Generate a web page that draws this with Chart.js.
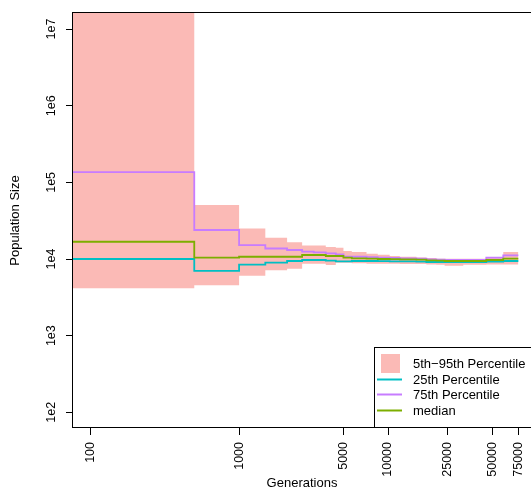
<!DOCTYPE html>
<html>
<head>
<meta charset="utf-8">
<script src="https://cdn.jsdelivr.net/npm/chart.js@4.4.1/dist/chart.umd.min.js"></script>
<style>
  html, body { margin: 0; padding: 0; background: #ffffff; overflow: hidden; }
  #wrap { width: 531px; height: 489px; position: relative; }
</style>
</head>
<body>
<div id="wrap"><canvas id="chart" width="531" height="489"></canvas></div>
<script>
// Step boundaries (generation at which each interval starts; last entry closes the final interval)
const generations = [1, 500, 1000, 1500, 2100, 2650, 3170, 3820, 4460, 5020, 5710, 7170,
                     8530, 10260, 12000, 15500, 18100, 21100, 24000, 32000, 45700, 59400, 75000];

// Population size per interval
const pct5   = [4140, 4560, 6060, 7110, 7480, 8690, 8690, 8350, 8950, 8950, 8820, 8690,
                8690, 8690, 8610, 8610, 8500, 8430, 8180, 8430, 8500, 8500];
const pct25  = [10000, 6980, 8430, 8950, 9420, 9700, 9700, 9500, 9310, 9310, 9420, 9420,
                9360, 9310, 9310, 9220, 9140, 9140, 9090, 9090, 9220, 9420];
const median = [16800, 10400, 10700, 10700, 10700, 11270, 11270, 10940, 10940, 10400, 10180, 10090,
                10000, 9940, 9880, 9790, 9590, 9500, 9420, 9420, 9700, 10090];
const pct75  = [136000, 23900, 15200, 13700, 13100, 12450, 12200, 11830, 11480, 10710, 10700, 10550,
                10400, 10300, 10180, 10090, 9880, 9790, 9700, 9700, 10400, 11140];
const pct95  = [30000000, 50500, 25000, 18900, 16600, 15030, 15030, 14330, 14030, 12710, 12330, 11720,
                11380, 10940, 10700, 10490, 10300, 10090, 10090, 10090, 10600, 12330];

const xTickValues = [100, 1000, 5000, 10000, 25000, 50000, 75000];
const xTickLabels = ['100', '1000', '5000', '10000', '25000', '50000', '75000'];
const yTickValues = [1e2, 1e3, 1e4, 1e5, 1e6, 1e7];
const yTickLabels = ['1e2', '1e3', '1e4', '1e5', '1e6', '1e7'];

const COLORS = {
  band: 'rgba(248,118,109,0.5)',
  p25: '#00BFC4',
  p75: '#C77CFF',
  median: '#7CAE00'
};

// Build step series: each interval value is repeated at the closing boundary
function steps(values) {
  const pts = values.map((v, i) => ({ x: generations[i], y: v }));
  pts.push({ x: generations[generations.length - 1], y: values[values.length - 1] });
  return pts;
}

Chart.defaults.font.family = '"Liberation Sans", Arial, Helvetica, sans-serif';
Chart.defaults.color = '#000000';

const lineBase = { stepped: 'before', pointRadius: 0, pointHoverRadius: 0, fill: false, borderWidth: 1.8 };

// Plot frame around the chart area
const framePlugin = {
  id: 'frame',
  afterDatasetsDraw(chart) {
    const { ctx, chartArea: a } = chart;
    ctx.save();
    ctx.strokeStyle = '#000000';
    ctx.lineWidth = 1;
    ctx.strokeRect(a.left - 0.5, a.top - 0.5, a.right - a.left + 6, a.bottom - a.top);
    ctx.restore();
  }
};

// Boxed legend anchored at the bottom-right corner of the plot
const legendPlugin = {
  id: 'boxLegend',
  afterDraw(chart) {
    const { ctx, chartArea: a } = chart;
    const ds = chart.data.datasets;
    const band = ds.find(d => d.id === 'p95');
    const lines = ['p25', 'p75', 'median'].map(id => ds.find(d => d.id === id));
    const x0 = a.right - 157, y0 = a.bottom - 81;
    ctx.save();
    ctx.fillStyle = '#ffffff';
    ctx.fillRect(x0, y0, a.right - x0, a.bottom - y0);
    ctx.strokeStyle = '#000000';
    ctx.lineWidth = 1;
    ctx.strokeRect(x0 + 0.5, y0 + 0.5, a.right - x0 + 6, a.bottom - y0 - 1);
    ctx.font = '13px "Liberation Sans", Arial, sans-serif';
    ctx.textBaseline = 'middle';
    ctx.textAlign = 'left';
    // band swatch
    ctx.fillStyle = band.backgroundColor;
    ctx.fillRect(x0 + 7, y0 + 7, 19, 19);
    ctx.fillStyle = '#000000';
    ctx.fillText(band.label, x0 + 39, y0 + 17);
    const rows = [33, 48, 64];
    lines.forEach((d, i) => {
      ctx.strokeStyle = d.borderColor;
      ctx.lineWidth = 2;
      ctx.beginPath();
      ctx.moveTo(x0 + 3, y0 + rows[i] - 0.5);
      ctx.lineTo(x0 + 28, y0 + rows[i] - 0.5);
      ctx.stroke();
      ctx.fillStyle = '#000000';
      ctx.fillText(d.label, x0 + 39, y0 + rows[i]);
    });
    ctx.restore();
  }
};

new Chart(document.getElementById('chart'), {
  type: 'line',
  data: {
    datasets: [
      Object.assign({}, lineBase, { id: 'median', label: 'median', data: steps(median), borderColor: COLORS.median }),
      Object.assign({}, lineBase, { id: 'p75', label: '75th Percentile', data: steps(pct75), borderColor: COLORS.p75 }),
      Object.assign({}, lineBase, { id: 'p25', label: '25th Percentile', data: steps(pct25), borderColor: COLORS.p25 }),
      Object.assign({}, lineBase, { id: 'p95', label: '5th\u221295th Percentile', data: steps(pct95),
        borderWidth: 0, borderColor: 'rgba(0,0,0,0)', backgroundColor: COLORS.band, fill: '+1', clip: 0 }),
      Object.assign({}, lineBase, { id: 'p5', label: '5th Percentile', data: steps(pct5),
        borderWidth: 0, borderColor: 'rgba(0,0,0,0)', clip: 0 })
    ]
  },
  options: {
    responsive: false,
    animation: false,
    devicePixelRatio: 1,
    layout: { padding: { left: 0, top: 13, right: 0, bottom: 0 } },
    plugins: {
      legend: { display: false },
      tooltip: { enabled: false }
    },
    scales: {
      x: {
        type: 'logarithmic',
        position: 'bottom',
        min: 76.7,
        max: 91200,
        afterBuildTicks(scale) { scale.ticks = xTickValues.map(v => ({ value: v })); },
        afterFit(scale) {
          scale.height = 61;
          scale.paddingLeft = 0;
          scale.paddingRight = 0;
        },
        ticks: {
          autoSkip: false,
          minRotation: 90,
          maxRotation: 90,
          padding: 7,
          color: '#000000',
          font: { size: 12.5 },
          callback: (v, i) => xTickLabels[i]
        },
        grid: { drawOnChartArea: false, drawTicks: true, tickLength: 7, tickColor: '#000000', color: '#000000' },
        border: { display: false },
        title: { display: true, text: 'Generations', color: '#000000', font: { size: 13 }, padding: { top: 0, bottom: -2 } }
      },
      y: {
        type: 'logarithmic',
        position: 'left',
        min: 62.4,
        max: 1.62e7,
        afterBuildTicks(scale) { scale.ticks = yTickValues.map(v => ({ value: v })); },
        afterFit(scale) {
          scale.width = 73;
          scale.paddingTop = 0;
          scale.paddingBottom = 0;
        },
        ticks: {
          autoSkip: false,
          minRotation: 90,
          maxRotation: 90,
          crossAlign: 'center',
          padding: 4,
          color: '#000000',
          font: { size: 12.5 },
          callback: (v, i) => yTickLabels[i]
        },
        grid: { drawOnChartArea: false, drawTicks: true, tickLength: 7, tickColor: '#000000', color: '#000000' },
        border: { display: false },
        title: { display: true, text: 'Population Size', color: '#000000', font: { size: 13 }, padding: { top: 8, bottom: 0 } }
      }
    }
  },
  plugins: [framePlugin, legendPlugin]
});
</script>
</body>
</html>
